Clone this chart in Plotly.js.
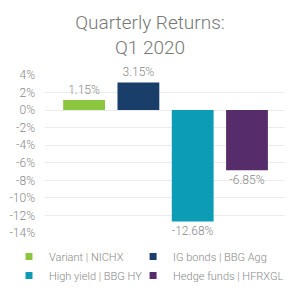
<!DOCTYPE html>
<html><head><meta charset="utf-8">
<script src="https://cdn.plot.ly/plotly-3.0.1.min.js"></script>
<style>html,body{margin:0;padding:0;background:#fff}</style>
</head><body><div id="chart" style="width:300px;height:298px"></div>
<script>
const names = ["Variant | NICHX", "IG bonds | BBG Agg", "High yield | BBG HY", "Hedge funds | HFRXGL"];
const values = [1.15, 3.15, -12.68, -6.85];
const labels = ["1.15%", "3.15%", "-12.68%", "-6.85%"];
const colors = ["#8cc63f", "#1a3e6a", "#0c9cb5", "#572c6a"];
const yTicks = [4, 2, 0, -2, -4, -6, -8, -10, -12, -14];
const yTickText = yTicks.map(v => v + "%");
const legendColumn = ["legend", "legend2", "legend", "legend2"];

const traces = [];
names.forEach((n, i) => {
  traces.push({
    type: "bar", x: [i], y: [values[i]], width: 0.77,
    text: [labels[i]], textposition: "outside", cliponaxis: false,
    textfont: {family: "Roboto", size: 12, color: "#888", weight: 300},
    marker: {color: colors[i]}, showlegend: false,
    hoverinfo: "none"
  });
});
names.forEach((n, i) => {
  traces.push({
    type: "scatter", mode: "markers", x: [null], y: [null], name: n,
    marker: {symbol: "square", size: 7, color: colors[i]}, legend: legendColumn[i]
  });
});

const legendFont = {family: "Roboto", size: 11, color: "#888", weight: 300};
const layout = {
  width: 300, height: 298,
  margin: {l: 45, r: 15, t: 75, b: 65, autoexpand: false},
  paper_bgcolor: "#fff", plot_bgcolor: "#fff",
  title: {text: "Quarterly Returns:<br>Q1 2020", x: 0.5, xanchor: "center", xref: "container",
          y: 0.903, yanchor: "top", yref: "container",
          font: {family: "Roboto", size: 19, color: "#777", weight: 300}},
  xaxis: {range: [-0.72, 3.7], showticklabels: false, showgrid: false, zeroline: false, fixedrange: true},
  yaxis: {range: [-14, 4], tickvals: yTicks, ticktext: yTickText, showgrid: true, gridcolor: "#ececec",
          zeroline: true, zerolinecolor: "#ececec", zerolinewidth: 1, ticks: "", ticklabelstandoff: 9,
          tickfont: {family: "Roboto", size: 12, color: "#888", weight: 300}},
  showlegend: true,
  legend: {orientation: "v", xref: "paper", yref: "paper", x: -0.15, xanchor: "left",
           y: -0.057, yanchor: "top", itemwidth: 30, tracegroupgap: 2, font: legendFont,
           bgcolor: "rgba(0,0,0,0)"},
  legend2: {orientation: "v", xref: "paper", yref: "paper", x: 0.367, xanchor: "left",
           y: -0.057, yanchor: "top", itemwidth: 30, tracegroupgap: 2, font: legendFont,
           bgcolor: "rgba(0,0,0,0)"},
  bargap: 0.2
};
Plotly.newPlot("chart", traces, layout, {displayModeBar: false, staticPlot: true});
</script></body></html>
